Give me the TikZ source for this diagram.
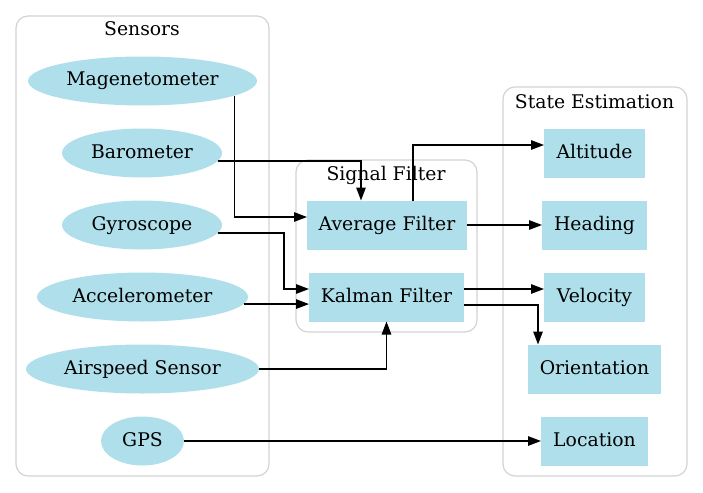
\documentclass[tikz,border=0pt]{standalone}
\usepackage{fontspec}
\setmainfont{DejaVu Serif}
\usetikzlibrary{shapes.geometric,arrows.meta}
\definecolor{nodeblue}{HTML}{B0DFEC}
\definecolor{clustergray}{HTML}{D3D3D3}
\begin{document}
\begin{tikzpicture}[x=1pt,y=-1pt,
  every node/.style={font=\fontsize{18.8}{20}\selectfont, text height=13pt, text depth=3pt, inner sep=0pt, outer sep=0pt},
  sensor/.style={ellipse, fill=nodeblue, minimum height=49pt},
  box/.style={rectangle, fill=nodeblue, minimum height=49pt},
  cluster/.style={draw=clustergray, line width=1.2pt, rounded corners=12pt},
  edge/.style={draw=black, line width=1.3pt, -{Triangle[length=13pt,width=9.5pt]}},
  title/.style={anchor=base}
]
\useasboundingbox (0,0) rectangle (703,492);
% clusters
\draw[cluster] (16,16) rectangle (269,476);
\node[title] (tsens) at (142,35.7) {Sensors};
\draw[cluster] (296,160) rectangle (477,332);
\node[title] (tsig) at (386,180) {Signal Filter};
\draw[cluster] (503,87) rectangle (687,476);
\node[title] (tstate) at (594.5,108) {State Estimation};
% sensors
\node[sensor, minimum width=229pt] (mag) at (142.5,81) {Magenetometer};
\node[sensor, minimum width=160pt] (baro) at (142,153) {Barometer};
\node[sensor, minimum width=160pt] (gyro) at (142,225) {Gyroscope};
\node[sensor, minimum width=211pt] (acc) at (142.5,297) {Accelerometer};
\node[sensor, minimum width=233pt] (air) at (142.5,369) {Airspeed Sensor};
\node[sensor, minimum width=83pt] (gps) at (142.5,441) {GPS};
% filters
\node[box, minimum width=160pt] (avg) at (387,225) {Average Filter};
\node[box, minimum width=155pt] (kal) at (386.5,297) {Kalman Filter};
% states
\node[box, minimum width=101pt] (alt) at (594.5,153) {Altitude};
\node[box, minimum width=105pt] (head) at (594.5,225) {Heading};
\node[box, minimum width=101pt] (vel) at (594.5,297) {Velocity};
\node[box, minimum width=133pt] (ori) at (594.5,369) {Orientation};
\node[box, minimum width=107pt] (loc) at (594.5,441) {Location};
% edges
\coordinate (g1) at (284,289);
\draw[edge] (mag.-9.2) |- ([yshift=8pt]avg.west);
\draw[edge] (baro.-6.04) -| ([xshift=-26pt]avg.north);
\draw[edge] (gyro.-6.04) -| (g1) -- ([yshift=8pt]kal.west);
\draw[edge] (acc.-4.59) -- (acc.-4.59 -| kal.west);
\draw[edge] (air) -| (kal);
\draw[edge] (gps) -- (loc);
\draw[edge] ([xshift=26pt]avg.north) |- ([yshift=8pt]alt.west);
\draw[edge] (avg) -- (head);
\draw[edge] ([yshift=8pt]kal.east) -- ([yshift=8pt]vel.west);
\draw[edge] ([yshift=-8pt]kal.east) -| ([xshift=-56.5pt]ori.north);
\end{tikzpicture}
\end{document}
